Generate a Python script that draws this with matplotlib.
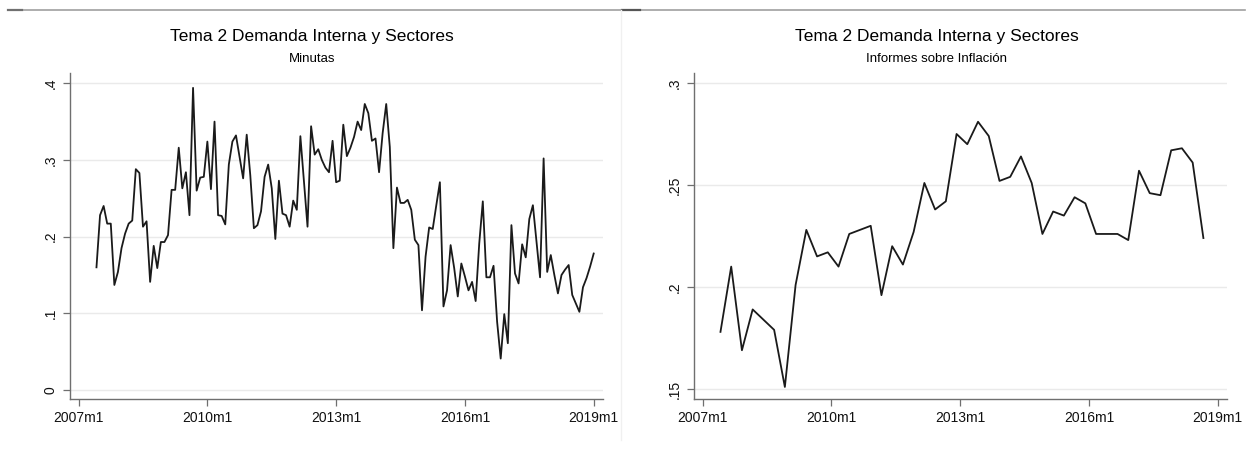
import matplotlib.pyplot as plt
import numpy as np
from matplotlib.lines import Line2D

plt.rcParams["font.family"] = ["Liberation Sans", "DejaVu Sans"]

TITLE = "Tema 2 Demanda Interna y Sectores"

# months counted from 2007m1
TICK_MONTHS = [0, 36, 72, 108, 144]
TICK_LABELS = ["2007m1", "2010m1", "2013m1", "2016m1", "2019m1"]

# Minutas: monthly, 2007m6 onwards
MINUTAS_START = 5
minutas = [
    0.160, 0.228, 0.240, 0.217, 0.217, 0.137, 0.154, 0.185, 0.204, 0.217,
    0.221, 0.288, 0.283, 0.213, 0.220, 0.141, 0.188, 0.159, 0.193, 0.193,
    0.202, 0.261, 0.261, 0.316, 0.263, 0.284, 0.228, 0.394, 0.260, 0.277,
    0.278, 0.324, 0.262, 0.350, 0.228, 0.227, 0.216, 0.294, 0.324, 0.332,
    0.304, 0.276, 0.333, 0.280, 0.211, 0.215, 0.233, 0.278, 0.294, 0.263,
    0.197, 0.273, 0.230, 0.228, 0.213, 0.247, 0.235, 0.331, 0.272, 0.213,
    0.344, 0.307, 0.314, 0.300, 0.290, 0.284, 0.325, 0.271, 0.273, 0.346,
    0.305, 0.316, 0.330, 0.350, 0.339, 0.373, 0.361, 0.325, 0.328, 0.284,
    0.335, 0.373, 0.317, 0.185, 0.264, 0.244, 0.244, 0.248, 0.235, 0.196,
    0.189, 0.104, 0.174, 0.212, 0.210, 0.241, 0.271, 0.109, 0.130, 0.189,
    0.159, 0.122, 0.165, 0.148, 0.130, 0.141, 0.116, 0.191, 0.246, 0.147,
    0.147, 0.162, 0.089, 0.041, 0.099, 0.061, 0.215, 0.152, 0.139, 0.190,
    0.173, 0.223, 0.241, 0.194, 0.147, 0.302, 0.154, 0.176, 0.150, 0.126,
    0.150, 0.157, 0.163, 0.124, 0.113, 0.102, 0.134, 0.146, 0.161, 0.178,
]

# Informes sobre Inflacion: quarterly, 2007m6 onwards
IPOM_START = 5
ipom = [
    0.178, 0.210, 0.169, 0.189, 0.184, 0.179, 0.151, 0.201, 0.228, 0.215,
    0.217, 0.210, 0.226, 0.228, 0.230, 0.196, 0.220, 0.211, 0.227, 0.251,
    0.238, 0.242, 0.275, 0.270, 0.281, 0.274, 0.252, 0.254, 0.264, 0.251,
    0.226, 0.237, 0.235, 0.244, 0.241, 0.226, 0.226, 0.226, 0.223, 0.257,
    0.246, 0.245, 0.267, 0.268, 0.261, 0.224,
]

W, H = 1251, 474
fig = plt.figure(figsize=(W / 100, H / 100), dpi=100)

AXIS_GREY = "#6f6f6f"


def panel(rect, x, y, yticks, ylabels, ylim, subtitle, title_x):
    ax = fig.add_axes(rect)
    ax.plot(x, y, color="#1a1a1a", linewidth=1.3)
    ax.set_xlim(-2.4, 146.6)
    ax.set_ylim(*ylim)
    ax.set_xticks(TICK_MONTHS)
    ax.set_xticklabels(TICK_LABELS)
    ax.set_yticks(yticks)
    ax.set_yticklabels(ylabels, rotation=90, va="center")
    ax.grid(axis="y", color="#eaeaea", linewidth=1.0)
    ax.set_axisbelow(True)
    for side in ("top", "right"):
        ax.spines[side].set_visible(False)
    for side in ("left", "bottom"):
        ax.spines[side].set_color(AXIS_GREY)
        ax.spines[side].set_linewidth(1.0)
    ax.tick_params(colors=AXIS_GREY, labelcolor="#111111", labelsize=10,
                   length=5, width=0.9)
    ax.tick_params(axis="y", pad=4)
    fig.text(title_x, 1 - 36 / H, TITLE, ha="center", va="center", fontsize=12.5)
    fig.text(title_x, 1 - 59 / H, subtitle, ha="center", va="center", fontsize=9.5)
    return ax


bottom = (H - 399) / H
height = (399 - 73) / H
width = (603 - 70) / W

xm = MINUTAS_START + np.arange(len(minutas))
panel([70 / W, bottom, width, height], xm, minutas,
      [0, 0.1, 0.2, 0.3, 0.4], ["0", ".1", ".2", ".3", ".4"],
      (-0.0117, 0.4134), "Minutas", 312 / W)

xi = IPOM_START + 3 * np.arange(len(ipom))
panel([694 / W, bottom, width, height], xi, ipom,
      [0.15, 0.2, 0.25, 0.3], [".15", ".2", ".25", ".3"],
      (0.1451, 0.3049), "Informes sobre Inflación", 937 / W)

# screenshot frame lines
fig.add_artist(Line2D([8 / W, 1245 / W], [1 - 10 / H] * 2, color="#a0a0a0",
                      linewidth=1.2, transform=fig.transFigure))
fig.add_artist(Line2D([8 / W, 22 / W], [1 - 10 / H] * 2, color="#707070",
                      linewidth=1.6, transform=fig.transFigure))
fig.add_artist(Line2D([622 / W, 640 / W], [1 - 10 / H] * 2, color="#555555",
                      linewidth=1.6, transform=fig.transFigure))
fig.add_artist(Line2D([621 / W] * 2, [1 - 10 / H, 1 - 440 / H], color="#f0f0f0",
                      linewidth=1.0, transform=fig.transFigure))

fig.savefig("out.png", dpi=100)
